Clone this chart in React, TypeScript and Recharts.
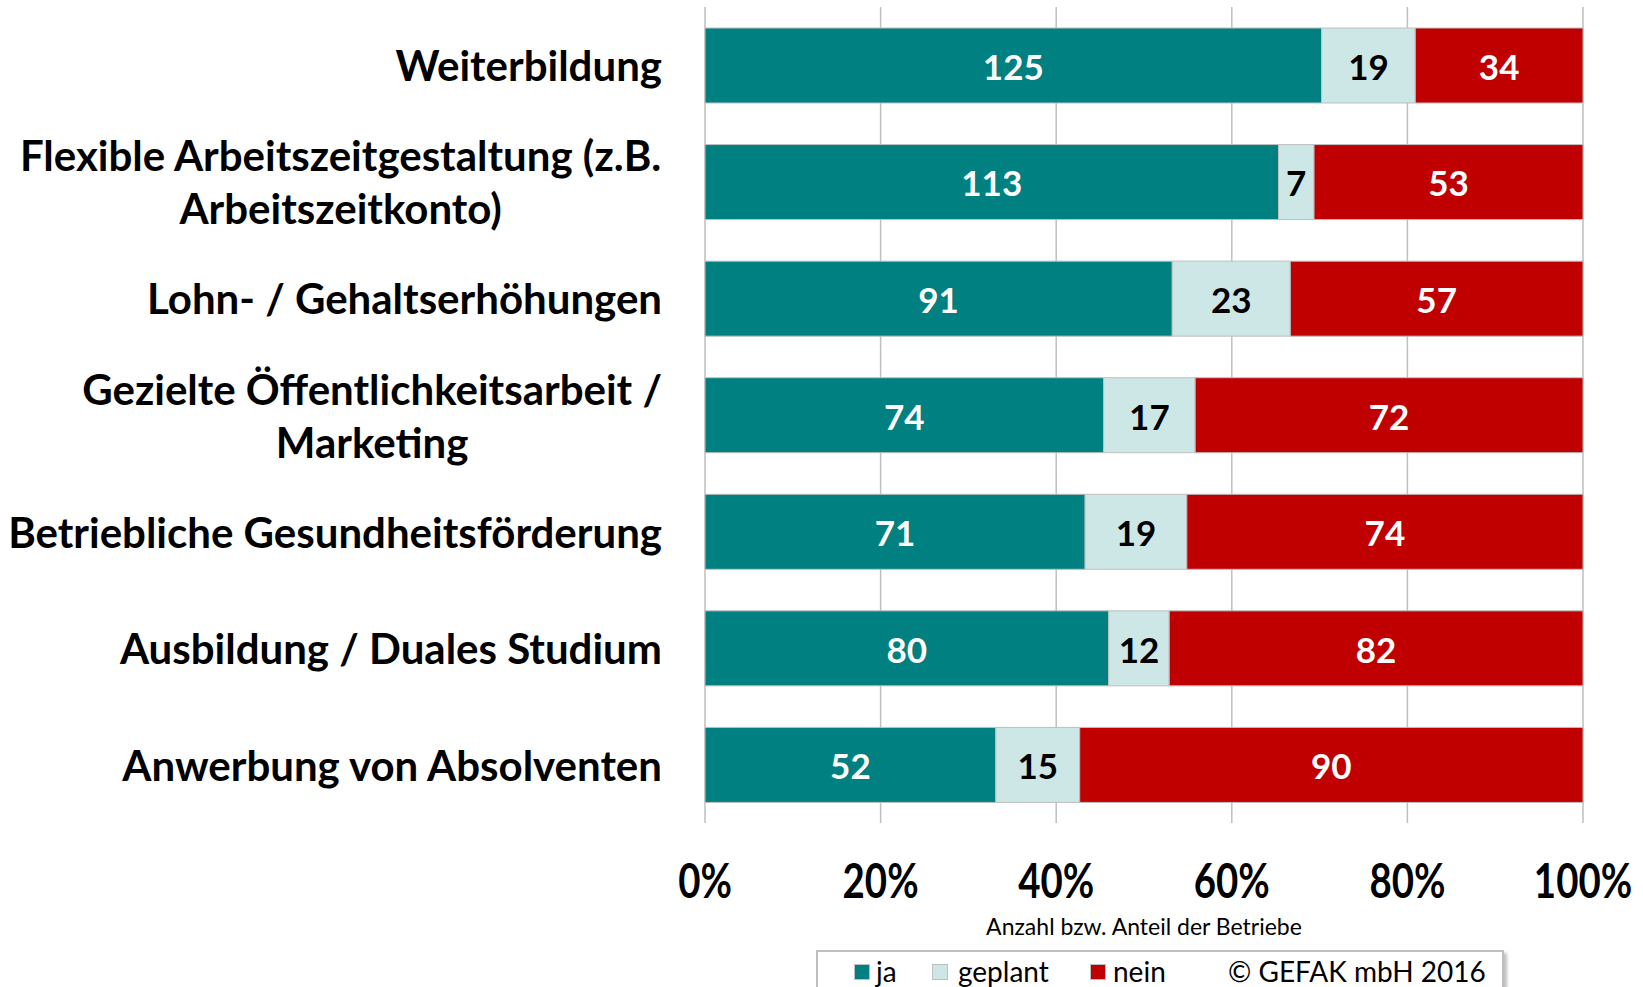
import { BarChart, Bar, XAxis, YAxis, CartesianGrid, LabelList, Legend } from "recharts";

const categories = [
  "Weiterbildung",
  "Flexible Arbeitszeitgestaltung (z.B.\nArbeitszeitkonto)",
  "Lohn- / Gehaltserhöhungen",
  "Gezielte Öffentlichkeitsarbeit /\nMarketing",
  "Betriebliche Gesundheitsförderung",
  "Ausbildung / Duales Studium",
  "Anwerbung von Absolventen",
];
const jaValues = [125, 113, 91, 74, 71, 80, 52];
const geplantValues = [19, 7, 23, 17, 19, 12, 15];
const neinValues = [34, 53, 57, 72, 74, 82, 90];
const xTicks = [0, 0.2, 0.4, 0.6, 0.8, 1];

const data = categories.map((name, i) => ({
  name,
  ja: jaValues[i],
  geplant: geplantValues[i],
  nein: neinValues[i],
}));

const TEAL = "#008080";
const LIGHT = "#CDE6E6";
const RED = "#C00000";
const BORDER = "#BFBFBF";
const FONT = "Lato, 'Open Sans', sans-serif";
const CAT_SIZE = 42;

let ctx: CanvasRenderingContext2D | null = null;
function textWidth(s: string, font: string) {
  if (!ctx) ctx = document.createElement("canvas").getContext("2d");
  if (!ctx) return s.length * 20;
  ctx.font = font;
  return ctx.measureText(s).width;
}

function CategoryTick(props: any) {
  const { x, y, payload } = props;
  const lines: string[] = String(payload.value).split("\n");
  const right = x - 43;
  if (lines.length === 1) {
    return (
      <text x={right} y={y} textAnchor="end" dominantBaseline="central"
        fontFamily={FONT} fontWeight="bold" fontSize={CAT_SIZE} fill="#000">
        {lines[0]}
      </text>
    );
  }
  // multi-line labels: lines centred on each other, block right-aligned
  const maxW = Math.max(...lines.map((l) => textWidth(l, `bold ${CAT_SIZE}px Lato`)));
  const cx = right - maxW / 2;
  const lh = 53;
  const y0 = y - ((lines.length - 1) * lh) / 2;
  return (
    <g>
      {lines.map((l, i) => (
        <text key={i} x={cx} y={y0 + i * lh} textAnchor="middle" dominantBaseline="central"
          fontFamily={FONT} fontWeight="bold" fontSize={CAT_SIZE} fill="#000">
          {l}
        </text>
      ))}
    </g>
  );
}

function PercentTick(props: any) {
  const { x, y, payload } = props;
  return (
    <text transform={`translate(${x},${y + 56}) scale(0.8,1)`} textAnchor="middle"
      dominantBaseline="central" fontFamily={FONT} fontWeight="bold" fontSize={48} fill="#000">
      {`${Math.round(payload.value * 100)}%`}
    </text>
  );
}

function AxisTitle(props: any) {
  const { viewBox } = props;
  return (
    <text x={viewBox.x + viewBox.width / 2} y={viewBox.y + 103} textAnchor="middle"
      dominantBaseline="central" fontFamily={FONT} fontSize={23} fill="#000">
      Anzahl bzw. Anteil der Betriebe
    </text>
  );
}

const legendPos: Record<string, { sq: number; tx: number }> = {
  ja: { sq: 36, tx: 58 },
  geplant: { sq: 114, tx: 140 },
  nein: { sq: 272, tx: 295 },
};

function LegendBox(props: any) {
  const { payload } = props;
  return (
    <div style={{
      position: "relative", width: 688, height: 60, boxSizing: "border-box",
      border: `2px solid ${BORDER}`, background: "#fff",
      boxShadow: "3px 3px 3px rgba(0,0,0,0.25)", fontFamily: FONT, fontSize: 28,
    }}>
      {(payload || []).map((p: any) => {
        const pos = legendPos[p.value] || { sq: 0, tx: 20 };
        return (
          <div key={p.value}>
            <div style={{
              position: "absolute", left: pos.sq, top: 12, width: 16, height: 16,
              background: p.color, border: `1px solid ${BORDER}`, boxSizing: "border-box",
            }} />
            <div style={{ position: "absolute", left: pos.tx, top: -1, lineHeight: "40px" }}>
              {p.value}
            </div>
          </div>
        );
      })}
      <div style={{ position: "absolute", left: 410, top: -1, lineHeight: "40px" }}>
        © GEFAK mbH 2016
      </div>
    </div>
  );
}

const labelStyle = { fontFamily: FONT, fontWeight: "bold" as const, fontSize: 35 };

export default function App() {
  return (
    <div style={{ position: "absolute", left: 0, top: 0, width: 1643, height: 987, background: "#fff", overflow: "hidden" }}>
      <BarChart
        width={1643}
        height={987}
        data={data}
        layout="vertical"
        stackOffset="expand"
        barSize={75}
        margin={{ top: 7, right: 60, bottom: 44, left: 0 }}
      >
        <CartesianGrid horizontal={false} stroke={BORDER} strokeWidth={1.5} />
        <XAxis
          type="number"
          domain={[0, 1]}
          ticks={xTicks}
          axisLine={false}
          tickLine={false}
          tickSize={0}
          tickMargin={0}
          height={120}
          tick={<PercentTick />}
          label={<AxisTitle />}
        />
        <YAxis
          type="category"
          dataKey="name"
          width={705}
          axisLine={false}
          tickLine={false}
          tickSize={0}
          tickMargin={0}
          interval={0}
          tick={<CategoryTick />}
        />
        <Legend
          layout="horizontal"
          verticalAlign="middle"
          align="center"
          content={<LegendBox />}
          wrapperStyle={{ position: "absolute", left: 816, top: 950, width: 688, height: 60 }}
        />
        <Bar dataKey="ja" name="ja" stackId="a" fill={TEAL} stroke={BORDER} strokeWidth={1} isAnimationActive={false}>
          <LabelList dataKey="ja" position="center" fill="#fff" dy={2} {...labelStyle} />
        </Bar>
        <Bar dataKey="geplant" name="geplant" stackId="a" fill={LIGHT} stroke={BORDER} strokeWidth={1} isAnimationActive={false}>
          <LabelList dataKey="geplant" position="center" fill="#000" dy={2} {...labelStyle} />
        </Bar>
        <Bar dataKey="nein" name="nein" stackId="a" fill={RED} stroke={BORDER} strokeWidth={1} isAnimationActive={false}>
          <LabelList dataKey="nein" position="center" fill="#fff" dy={2} {...labelStyle} />
        </Bar>
      </BarChart>
    </div>
  );
}
